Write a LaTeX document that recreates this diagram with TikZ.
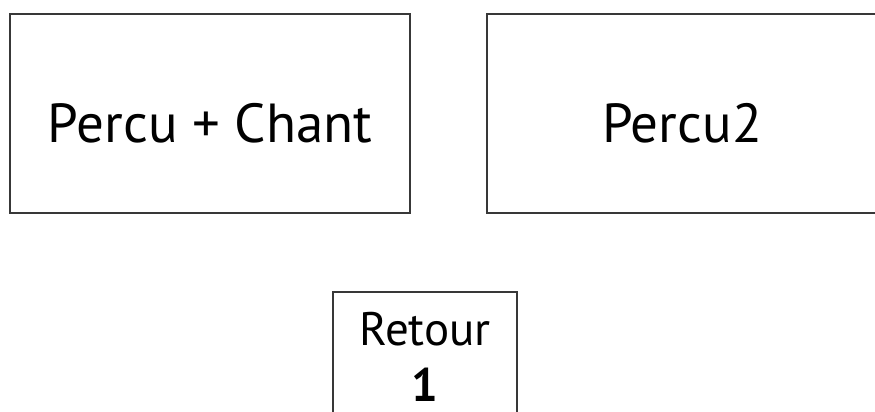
\documentclass[tikz,border=0pt]{standalone}
\usepackage{fontspec}
\setmainfont{PT Sans}
\usetikzlibrary{positioning}

\tikzset{
  zone/.style={draw=black!78, line width=1.6pt, fill=white},
  zonetext/.style={font=\fontsize{55}{60}\selectfont, text=black}
}

\begin{document}
\begin{tikzpicture}[x=1pt, y=-1pt]
            % Page frame
            \useasboundingbox (0,0) rectangle (875,412);
            \clip (0,0) rectangle (875,412);
            % Stage zones
            \node[zone, minimum width=400pt, minimum height=199pt,
                  label={[zonetext, yshift=-10pt]center:Percu + Chant}] (chant) at (210,113.5) {};
            \node[zone, minimum width=390pt, minimum height=199pt,
                  label={[zonetext, yshift=-10pt]center:Percu2}] (percu) at (682,113.5) {};

            % Monitor, cut by the lower edge
            \node[zone, minimum width=184pt, minimum height=130pt, anchor=north,
                  align=center, font=\fontsize{47}{56}\selectfont, text=black] (retour) at (425,291)
                  {Retour\\\textbf{1}};
        \end{tikzpicture}
\end{document}
